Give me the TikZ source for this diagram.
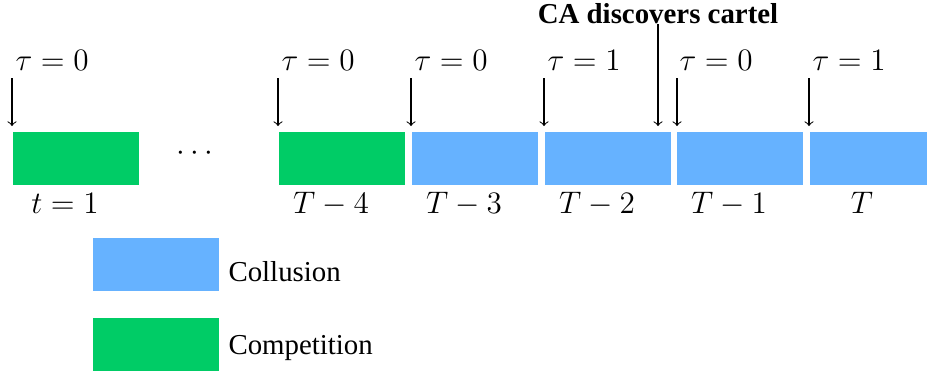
\documentclass[tikz,border=0pt]{standalone}
\usepackage{fontspec}
\setmainfont{Liberation Serif}
\definecolor{colblue}{RGB}{102,178,255}
\definecolor{colgreen}{RGB}{0,204,102}
\begin{document}
\begin{tikzpicture}[x=0.3846pt,y=-0.3846pt,
  every node/.style={font=\fontsize{12}{14}\selectfont},
  txt/.style={font=\fontsize{11.1}{13}\selectfont, inner sep=0pt},
  period/.style={rectangle, draw=none, inner sep=0pt, minimum width=48.46pt, minimum height=20.38pt, anchor=north west},
  collude/.style={period, fill=colblue},
  compete/.style={period, fill=colgreen},
  tlabel/.style={anchor=base, inner sep=0pt},
  taulabel/.style={anchor=base west, inner sep=0pt},
  arr/.style={->, line width=0.4pt, shorten >=1.9pt}
]
\useasboundingbox (0,0) rectangle (927,372);
% periods
\node[compete] (b1) at (12,131) {};
\node[compete] (b2) at (278,131) {};
\node[collude] (b3) at (411,131) {};
\node[collude] (b4) at (544,131) {};
\node[collude] (b5) at (676,131) {};
\node[collude] (b6) at (809,131) {};
\node (dots) at (195,154) {$\cdots$};
% time labels
\node[tlabel] (l1) at (65,213) {$t=1$};
\node[tlabel] (l2) at (331,213) {$T-4$};
\node[tlabel] (l3) at (464,213) {$T-3$};
\node[tlabel] (l4) at (597,213) {$T-2$};
\node[tlabel] (l5) at (729,213) {$T-1$};
\node[tlabel] (l6) at (862,213) {$T$};
% tau labels and arrows
\node[taulabel] (t1) at (15,70) {$\tau=0$};
\node[taulabel] (t2) at (281,70) {$\tau=0$};
\node[taulabel] (t3) at (414,70) {$\tau=0$};
\node[taulabel] (t4) at (547,70) {$\tau=1$};
\node[taulabel] (t5) at (679,70) {$\tau=0$};
\node[taulabel] (t6) at (812,70) {$\tau=1$};
\coordinate (a1) at (12,78);
\coordinate (a2) at (278,78);
\coordinate (a3) at (411,78);
\coordinate (a4) at (544,78);
\coordinate (a5) at (677,78);
\coordinate (a6) at (809,78);
\draw[arr] (a1) -- (b1.north west);
\draw[arr] (a2) -- (b2.north west);
\draw[arr] (a3) -- (b3.north west);
\draw[arr] (a4) -- (b4.north west);
\draw[arr] (a5) -- (b5.north west -| a5);
\draw[arr] (a6) -- (b6.north west);
% CA discovers cartel
\node[txt, anchor=base] (ca) at (658,23) {\textbf{CA discovers cartel}};
\coordinate (cat) at (658,24);
\coordinate (cab) at (658,131);
\draw[arr] (cat) -- (cab);
% legend
\node[collude] (lgb) at (92,237) {};
\node[compete] (lgg) at (92,317) {};
\node[txt, anchor=base west] (lgbt) at (228,281) {Collusion};
\node[txt, anchor=base west] (lggt) at (228,354) {Competition};
\end{tikzpicture}
\end{document}
